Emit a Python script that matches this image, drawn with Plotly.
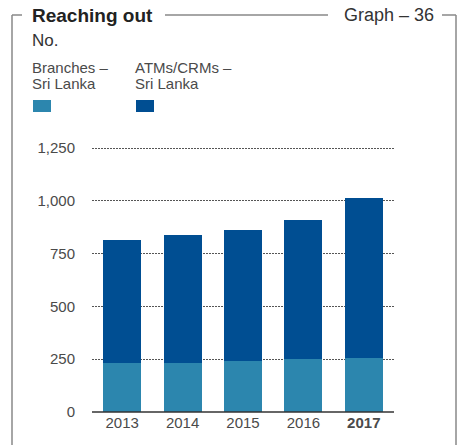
import plotly.graph_objects as go

# Reaching out: customer touch points in Sri Lanka
years = ["2013", "2014", "2015", "2016", "2017"]
branches = [232, 232, 242, 250, 255]
atms_crms = [582, 606, 620, 659, 759]
y_ticks = [0, 250, 500, 750, 1000, 1250]
y_tick_labels = ["0", "250", "500", "750", "1,000", "1,250"]

C_BRANCH = "#2C86AE"
C_ATM = "#004E92"
FONT = "Liberation Sans, Arial, sans-serif"
TEXT = "#4a4a4a"

W, H = 458, 445
L, R, T, B = 92, 64, 147, 33
PW, PH = W - L - R, H - T - B


def px(x):
    return (x - L) / PW


def py(y):
    return (H - B - y) / PH


fig = go.Figure()
fig.add_trace(go.Bar(x=years, y=branches, name="Branches – Sri Lanka",
                     marker=dict(color=C_BRANCH, line=dict(width=0)), width=0.63))
fig.add_trace(go.Bar(x=years, y=atms_crms, name="ATMs/CRMs – Sri Lanka",
                     marker=dict(color=C_ATM, line=dict(width=0)), width=0.63))

tick_text = [f"<b>{y}</b>" if y == years[-1] else y for y in years]

fig.update_layout(
    width=W, height=H, barmode="stack", showlegend=False,
    margin=dict(l=L, r=R, t=T, b=B),
    paper_bgcolor="white", plot_bgcolor="white",
    font=dict(family=FONT, color=TEXT, size=15),
    xaxis=dict(type="category", range=[-0.5, 4.5], tickvals=years, ticktext=tick_text,
               showgrid=False, showline=False, ticks="", tickfont=dict(size=15, color=TEXT),
               fixedrange=True),
    yaxis=dict(range=[0, 1255], tickvals=y_ticks, ticktext=y_tick_labels,
               showgrid=True, gridcolor="#555555", gridwidth=1, griddash="2px,1px",
               zeroline=False, showline=False, ticks="", ticklabelstandoff=16,
               tickfont=dict(size=15, color=TEXT), fixedrange=True),
)

# baseline
fig.add_shape(type="line", xref="paper", yref="paper", x0=0, x1=1, y0=0, y1=0,
              line=dict(color="#333333", width=1.5), layer="above")

# frame around the graph
FRAME = "#888888"
frame_lines = [
    (12, 15, 22, 15), (165, 15, 328, 15), (442, 15, 456, 15),
    (12, 15, 12, 445), (456, 15, 456, 445),
]
for x0, y0, x1, y1 in frame_lines:
    fig.add_shape(type="line", xref="paper", yref="paper",
                  x0=px(x0), y0=py(y0), x1=px(x1), y1=py(y1),
                  line=dict(color=FRAME, width=1.5))

# header texts
def label(x, y, text, size, color=TEXT, xanchor="left"):
    fig.add_annotation(xref="paper", yref="paper", x=px(x), y=py(y), text=text,
                       showarrow=False, xanchor=xanchor, yanchor="middle",
                       font=dict(size=size, color=color, family=FONT), align="left")

label(30, 15, "<b>Reaching out</b>", 19, "#222222")
label(436, 15, "Graph – 36", 18, "#333333", xanchor="right")
label(30, 40, "No.", 17, "#333333")

# legend: two-line labels above colour swatches
for x0, lines, color in [(33, ["Branches –", "Sri Lanka"], C_BRANCH),
                         (136, ["ATMs/CRMs –", "Sri Lanka"], C_ATM)]:
    label(x0 - 3, 67, lines[0], 15)
    label(x0 - 3, 83.5, lines[1], 15)
    fig.add_shape(type="rect", xref="paper", yref="paper",
                  x0=px(x0), x1=px(x0 + 18), y0=py(112), y1=py(100),
                  fillcolor=color, line=dict(width=0))

fig.write_html("out.html")
